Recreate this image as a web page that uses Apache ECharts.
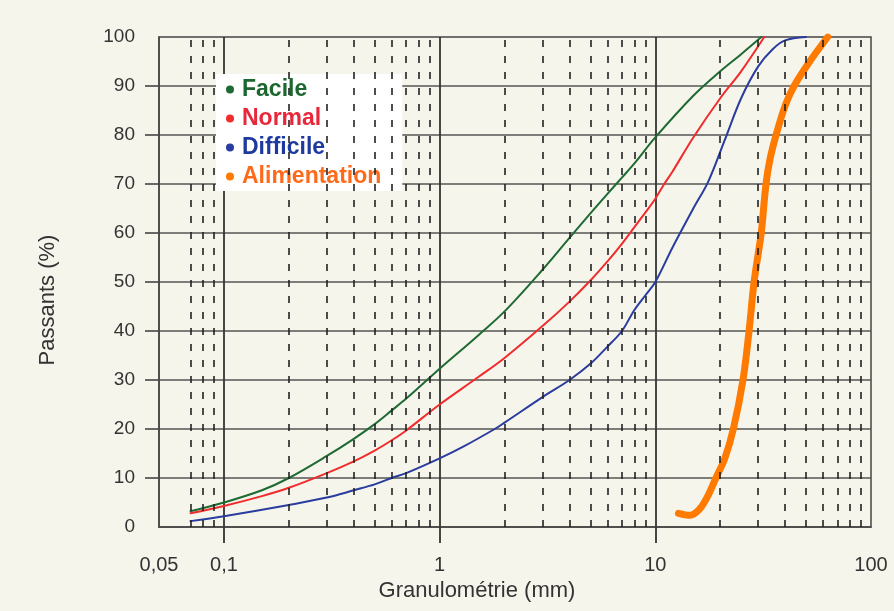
<!DOCTYPE html>
<html><head><meta charset="utf-8">
<script src="https://cdn.jsdelivr.net/npm/echarts@6/dist/echarts.min.js"></script>
<style>html,body{margin:0;padding:0;background:#f6f5ec}#c{width:894px;height:611px}</style>
</head><body><div id="c"></div>
<script>
// Data: [granulométrie (mm), passants (%)]
const facile = [[0.07,3.2],[0.1,5],[0.15,7.5],[0.2,10],[0.3,14.5],[0.4,18],[0.5,21],[0.6,23.8],[0.7,26.2],[1,32.3],[1.5,39],[2,44],[3,52.5],[4,59],[5,64],[6,68],[7,71.3],[8,74.2],[10,79.5],[15,88],[20,93],[25,96.5],[31,100]];
const normal = [[0.07,2.8],[0.1,4.3],[0.15,6.3],[0.2,8],[0.3,11],[0.4,13.4],[0.5,15.6],[0.6,17.7],[0.7,19.7],[1,25],[1.5,30.5],[2,34.5],[3,41],[4,46],[5,50.3],[6,54.2],[7,57.8],[8,61.2],[9,64.2],[10,67],[11,70],[12,72.5],[15,79.5],[20,87.5],[25,93],[32,100]];
const difficile = [[0.07,1.2],[0.1,2.2],[0.2,4.5],[0.3,6],[0.4,7.5],[0.5,8.7],[0.6,10],[0.7,11],[1,14],[1.3,16.5],[1.8,20],[2,21.3],[3,26.5],[4,30],[5,33.3],[6,36.8],[7,40],[8,44.3],[9,47.3],[10,50],[12,57],[15,65],[17.6,70.5],[21,79],[25,87.5],[30,94],[35,97.5],[40,99.3],[50,100]];
const alimentation = [[12.8,2.8],[14.5,2.4],[16,3.6],[17.5,6.3],[19,9.8],[21,14],[23,20],[25.5,30],[27.2,40],[28.7,50],[30.3,57],[31,60],[32.6,70],[34,75],[36.3,80],[40,86],[44,90],[52,95],[63,100]];

const seriesNames = ['Facile','Normal','Difficile','Alimentation'];
const xTickValues = [0.05,0.1,1,10,100];
const xTickLabels = ['0,05','0,1','1','10','100'];
const decadeTicks = [0.1,1,10];
const minorLines = [0.07,0.08,0.09,0.2,0.3,0.4,0.5,0.6,0.7,0.8,0.9,2,3,4,5,6,7,8,9,20,30,40,50,60,70,80,90];
const yTicks = [10,20,30,40,50,60,70,80,90];

const lineColors = ['#1f6a33','#f02c2c','#2a3c9e','#ff7a00'];
const textColors = ['#1c6630','#e8283a','#1e3a9e','#ff6a1a'];
const font = 'Liberation Sans, Arial, sans-serif';

const chart = echarts.init(document.getElementById('c'));
const dataSets = [facile, normal, difficile, alimentation];
const widths = [2, 2, 2, 7];

const series = [{
  type: 'line', name: '_grid', data: [], z: 1, silent: true,
  markLine: {
    silent: true, symbol: ['none','none'], animation: false,
    label: {show: false},
    lineStyle: {type: [7, 9], color: '#222', width: 1.6},
    data: minorLines.map(v => ({xAxis: v}))
  }
}];
dataSets.forEach((d, i) => {
  series.push({
    type: 'line', name: seriesNames[i], data: d, smooth: 0.35,
    symbol: 'none', z: 3,
    lineStyle: {color: lineColors[i], width: widths[i], cap: 'round', join: 'round'},
    itemStyle: {color: lineColors[i]}
  });
});

chart.setOption({
  animation: false,
  backgroundColor: '#f6f5ec',
  grid: {left: 159, right: 23, top: 37, bottom: 84, show: true, borderColor: '#444', borderWidth: 1.5},
  legend: {
    orient: 'vertical', left: 216, top: 74, backgroundColor: '#ffffff',
    padding: [4, 21, 3, 10], itemGap: 6, itemWidth: 14, itemHeight: 8,
    icon: 'circle', selectedMode: false,
    itemStyle: {borderWidth: 0},
    textStyle: {fontFamily: font, fontWeight: 'bold', fontSize: 23},
    data: seriesNames.map((n, i) => ({name: n, textStyle: {color: textColors[i]}}))
  },
  xAxis: {
    type: 'log', logBase: 10, min: 0.05, max: 100,
    name: 'Granulométrie (mm)', nameLocation: 'middle', nameGap: 52,
    nameTextStyle: {fontFamily: font, fontSize: 22, color: '#333', padding: [0, 76, 0, 0]},
    axisLine: {show: true, lineStyle: {color: '#444', width: 1.5}},
    axisTick: {show: true, inside: false, length: 16, customValues: decadeTicks, lineStyle: {color: '#333', width: 1.8}},
    axisLabel: {
      fontFamily: font, fontSize: 20, color: '#333', margin: 28,
      showMinLabel: true, showMaxLabel: true,
      customValues: xTickValues,
      formatter: function (v) {
        for (let i = 0; i < xTickValues.length; i++) {
          if (Math.abs(Math.log10(v) - Math.log10(xTickValues[i])) < 0.01) return xTickLabels[i];
        }
        return '';
      }
    },
    splitLine: {show: true, lineStyle: {color: '#333', width: 1.8}},
    minorTick: {show: false}, minorSplitLine: {show: false}
  },
  yAxis: {
    type: 'value', min: 0, max: 100, interval: 10,
    name: 'Passants (%)', nameLocation: 'middle', nameGap: 100,
    nameTextStyle: {fontFamily: font, fontSize: 22, color: '#333', padding: [0, 36, 0, 0]},
    axisLine: {show: true, lineStyle: {color: '#444', width: 1.5}},
    axisTick: {show: true, inside: false, length: 14, customValues: yTicks, lineStyle: {color: '#444', width: 1.6}},
    axisLabel: {fontFamily: font, fontSize: 19, color: '#333', margin: 24},
    splitLine: {show: true, lineStyle: {color: '#555', width: 1.6}}
  },
  series: series
});
</script>
</body></html>
